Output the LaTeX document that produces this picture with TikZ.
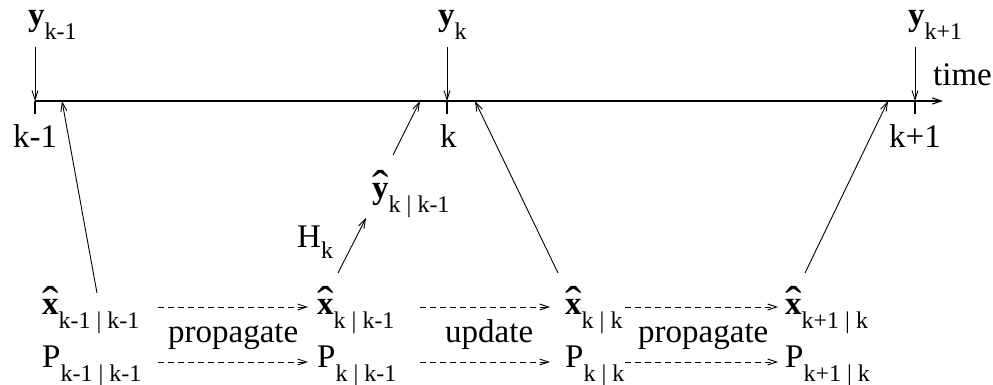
\documentclass[tikz,border=0pt]{standalone}
\usepackage{fontspec}
\setmainfont{Liberation Serif}
\usetikzlibrary{arrows.meta}
\newcommand\sbs[2][14pt]{\raisebox{-#1}{\fontsize{24}{24}\selectfont #2}}
\newcommand\hatb[1]{\leavevmode\setbox0=\hbox{\bfseries #1}\rlap{\hbox to\wd0{\hss\raisebox{-4pt}{\scalebox{1.5}[1.4]{\mdseries\char"02C6}}\hss}}\box0}
\begin{document}
\begin{tikzpicture}[x=1pt,y=-1pt,
  lbl/.style={anchor=base west,inner sep=0pt,font=\fontsize{33}{36}\selectfont},
  conn/.style={line width=0.9pt,-{Straight Barb[length=9pt,width=6pt]}},
  dconn/.style={conn,dash pattern=on 6pt off 4pt},
  tick/.style={line width=1.1pt}]
\useasboundingbox (0,0) rectangle (993,385);
% time axis
\coordinate (t0) at (35,101);
\coordinate (tend) at (943,101);
\coordinate (tk1) at (35,101);
\coordinate (tk) at (447,101);
\coordinate (tk2) at (915,101);
\coordinate (tk1b) at (35,114);
\coordinate (tkb) at (447,114);
\coordinate (tk2b) at (915,114);
\draw[conn,line width=1.1pt] (t0) -- (tend);
\draw[tick] (tk1) -- (tk1b);
\draw[tick] (tk) -- (tkb);
\draw[tick] (tk2) -- (tk2b);
% measurements
\node[lbl] (yk1) at (28,26) {\textbf{y}\sbs{k-1}};
\node[lbl] (yk) at (438,26) {\textbf{y}\sbs{k}};
\node[lbl] (yk2) at (908,26) {\textbf{y}\sbs{k+1}};
\coordinate (yk1s) at (35,47);
\coordinate (yks) at (447,47);
\coordinate (yk2s) at (915,47);
\draw[conn] (yk1s) -- (tk1);
\draw[conn] (yks) -- (tk);
\draw[conn] (yk2s) -- (tk2);
\node[lbl] (time) at (933,86) {time};
\node[lbl] (lk1) at (13,148) {k-1};
\node[lbl] (lk) at (440,148) {k};
\node[lbl] (lk2) at (889,148) {k+1};
% predicted measurement
\node[lbl] (yhat) at (372,198) {\hatb{y}\sbs{k | k-1}};
\node[lbl] (H) at (297,247) {H\sbs[11pt]{k}};
% states
\node[lbl] (x1) at (42,314) {\hatb{x}\sbs{k-1 | k-1}};
\node[lbl] (x2) at (317,314) {\hatb{x}\sbs{k | k-1}};
\node[lbl] (x3) at (565,314) {\hatb{x}\sbs{k | k}};
\node[lbl] (x4) at (785,314) {\hatb{x}\sbs{k+1 | k}};
\node[lbl] (P1) at (42,367) {P\sbs{k-1 | k-1}};
\node[lbl] (P2) at (317,367) {P\sbs{k | k-1}};
\node[lbl] (P3) at (565,367) {P\sbs{k | k}};
\node[lbl] (P4) at (785,367) {P\sbs{k+1 | k}};
\node[lbl] (prop1) at (168,342) {propagate};
\node[lbl] (upd) at (445,342) {update};
\node[lbl] (prop2) at (638,342) {propagate};
% dashed transitions
\coordinate (a1) at (158,307); \coordinate (b1) at (308,307);
\coordinate (a2) at (420,307); \coordinate (b2) at (550,307);
\coordinate (a3) at (625,307); \coordinate (b3) at (778,307);
\coordinate (c1) at (158,362); \coordinate (d1) at (308,362);
\coordinate (c2) at (420,362); \coordinate (d2) at (550,362);
\coordinate (c3) at (625,362); \coordinate (d3) at (778,362);
\draw[dconn] (a1) -- (b1);
\draw[dconn] (a2) -- (b2);
\draw[dconn] (a3) -- (b3);
\draw[dconn] (c1) -- (d1);
\draw[dconn] (c2) -- (d2);
\draw[dconn] (c3) -- (d3);
% links to time axis
\coordinate (x1s) at (97,293); \coordinate (x1e) at (62,101);
\coordinate (hs) at (338,273); \coordinate (he) at (366,218);
\coordinate (ys) at (393,155); \coordinate (ye) at (420,101);
\coordinate (x3s) at (558,273); \coordinate (x3e) at (475,101);
\coordinate (x4s) at (805,273); \coordinate (x4e) at (888,101);
\draw[conn] (x1s) -- (x1e);
\draw[conn] (hs) -- (he);
\draw[conn] (ys) -- (ye);
\draw[conn] (x3s) -- (x3e);
\draw[conn] (x4s) -- (x4e);
\end{tikzpicture}
\end{document}
